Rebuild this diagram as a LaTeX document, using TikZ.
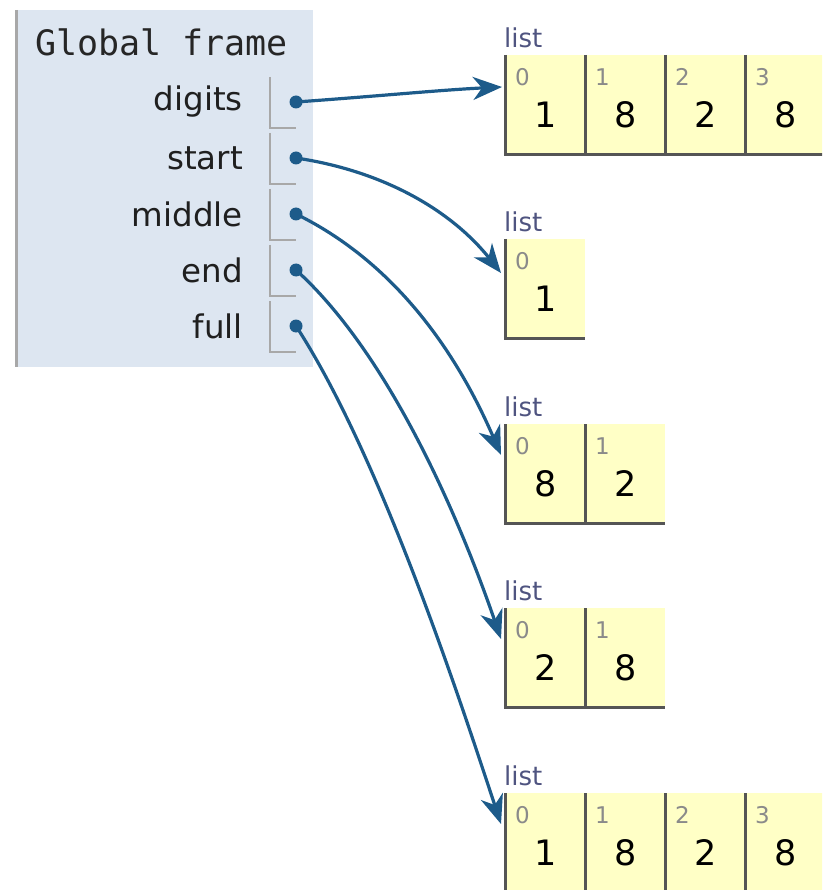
\documentclass[tikz,border=0pt]{standalone}
\usepackage{fontspec}
\setmainfont{DejaVu Sans}
\newfontfamily\monof{DejaVu Sans Mono}
\usetikzlibrary{arrows.meta}
\definecolor{framebg}{HTML}{DDE6F1}
\definecolor{framebar}{HTML}{A8A8A8}
\definecolor{arrowc}{HTML}{1D5B8A}
\definecolor{cellbg}{HTML}{FFFFC6}
\definecolor{celledge}{HTML}{555555}
\definecolor{idxc}{HTML}{8A8A8A}
\definecolor{listc}{HTML}{4F5480}
\tikzset{
  varname/.style={anchor=east, inner sep=0pt, font=\fontsize{32.5}{38}\selectfont, text=black!88},
  ptrbox/.style={draw=framebar, line width=2.2pt},
  dotnode/.style={circle, fill=arrowc, inner sep=0pt, minimum size=13pt},
  ptrarrow/.style={draw=arrowc, line width=3.2pt, arrows={-Stealth[length=29pt 0 0, width=23pt 0 0, inset=9pt 0]}},
  cellnode/.style={fill=cellbg, minimum width=80pt, minimum height=99pt, inner sep=0pt, anchor=north west},
  celledges/.style={draw=celledge, line width=3pt},
  idxlabel/.style={anchor=west, inner sep=0pt, font=\fontsize{23}{28}\selectfont, text=idxc},
  vallabel/.style={inner sep=0pt, font=\fontsize{35}{40}\selectfont, text=black},
  listlabel/.style={anchor=west, inner sep=0pt, font=\fontsize{26}{30}\selectfont, text=listc}
}
\newcommand{\mycell}[5]{% name, x, y, index, value
  \node[cellnode] (#1) at (#2,#3) {};
  \draw[celledges] (#1.north west) -- (#1.south west) -- (#1.south east);
  \node[idxlabel] (#1i) at ([xshift=10pt,yshift=-22pt]#1.north west) {#4};
  \node[vallabel] (#1v) at ([yshift=-60pt]#1.north) {#5};
}
\begin{document}
\begin{tikzpicture}[x=1pt,y=-1pt]
\useasboundingbox (0,0) rectangle (822,890);
\clip (0,0) rectangle (822,890);
% frame
\node[fill=framebg, minimum width=298pt, minimum height=357pt, inner sep=0pt, anchor=north west] (frame) at (15,10) {};
\draw[draw=framebar, line width=3pt] (frame.north west) ++(1.5pt,0) -- ++(0,-357pt);
\node[anchor=west, inner sep=0pt, font=\monof\fontsize{35}{40}\selectfont, text=black!85] (title) at (35,42) {Global frame};
% variables
\foreach \nm/\lab/\yy in {vd/digits/102, vs/start/158, vm/middle/214, ve/end/270, vf/full/326}{
  \node[varname] (\nm) at (243,\yy) {\lab};
  \draw[ptrbox] (270,\yy-25) |- (296,\yy+26);
  \node[dotnode] (\nm d) at (296,\yy) {};
}
% lists
\node[listlabel] (ldl) at (504,38) {list};
\mycell{a0}{505}{55}{0}{1}
\mycell{a1}{585}{55}{1}{8}
\mycell{a2}{665}{55}{2}{2}
\mycell{a3}{745}{55}{3}{8}

\node[listlabel] (lsl) at (504,222) {list};
\mycell{b0}{505}{239}{0}{1}

\node[listlabel] (lml) at (504,407) {list};
\mycell{c0}{505}{424}{0}{8}
\mycell{c1}{585}{424}{1}{2}

\node[listlabel] (lel) at (504,591) {list};
\mycell{d0}{505}{608}{0}{2}
\mycell{d1}{585}{608}{1}{8}

\node[listlabel] (lfl) at (504,776) {list};
\mycell{e0}{505}{793}{0}{1}
\mycell{e1}{585}{793}{1}{8}
\mycell{e2}{665}{793}{2}{2}
\mycell{e3}{745}{793}{3}{8}

% arrow targets
\coordinate (ta) at (502,87);
\coordinate (tb) at (501,273);
\coordinate (tc) at (501,455);
\coordinate (td) at (501,639);
\coordinate (te) at (501,824);
% arrows
\draw[ptrarrow] (vdd.center) .. controls (380,96) and (440,90) .. (ta);
\draw[ptrarrow] (vsd.center) .. controls (390,172) and (455,215) .. (tb);
\draw[ptrarrow] (vmd.center) .. controls (400,265) and (460,360) .. (tc);
\draw[ptrarrow] (ved.center) .. controls (390,355) and (460,520) .. (td);
\draw[ptrarrow] (vfd.center) .. controls (380,455) and (460,700) .. (te);
\end{tikzpicture}
\end{document}
